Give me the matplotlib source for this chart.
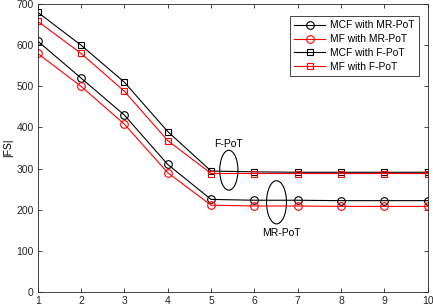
import numpy as np
import matplotlib
matplotlib.use('Agg')
import matplotlib.pyplot as plt
from matplotlib.patches import Ellipse

x = np.arange(1, 11)
mcf_mr = [610, 520, 430, 310, 225, 223, 223, 222, 222, 222]
mf_mr = [580, 500, 408, 290, 211, 209, 209, 208, 208, 208]
mcf_f = [680, 600, 510, 390, 294, 292, 291, 291, 291, 291]
mf_f = [658, 580, 488, 368, 288, 288, 288, 288, 288, 288]

plt.rcParams['font.family'] = 'Liberation Sans'
plt.rcParams['font.size'] = 7.5

fig = plt.figure(figsize=(4.33, 3.08), dpi=100)
ax = fig.add_axes([0.087, 0.052, 0.901, 0.935])

ax.plot(x, mcf_mr, 'k-', marker='o', mfc='none', ms=5.5, mew=0.8, lw=0.8, label='MCF with MR-PoT')
ax.plot(x, mf_mr, 'r-', marker='o', mfc='none', ms=5.5, mew=0.8, lw=0.8, label='MF with MR-PoT')
ax.plot(x, mcf_f, 'k-', marker='s', mfc='none', ms=4.5, mew=0.8, lw=0.8, label='MCF with F-PoT')
ax.plot(x, mf_f, 'r-', marker='s', mfc='none', ms=4.5, mew=0.8, lw=0.8, label='MF with F-PoT')

# annotation ellipses
ax.add_patch(Ellipse((5.41, 296), 0.42, 97, fill=False, ec='k', lw=0.8))
ax.text(5.41, 360, 'F-PoT', ha='center', va='center')
ax.add_patch(Ellipse((6.51, 218), 0.46, 105, fill=False, ec='k', lw=0.8))
ax.text(6.63, 143, 'MR-PoT', ha='center', va='center')

ax.set_xlim(1, 10)
ax.set_ylim(0, 700)
ax.set_xticks(range(1, 11))
ax.set_yticks(range(0, 701, 100))
ax.set_ylabel('|FS|', labelpad=2)
ax.tick_params(direction='in', top=True, right=True, length=3, width=0.6, colors='#262626', pad=3)
for s in ax.spines.values():
    s.set_color('#262626')
    s.set_linewidth(0.6)

leg = ax.legend(loc='upper right', fancybox=False, edgecolor='#262626', framealpha=1,
                fontsize=7.4, bbox_to_anchor=(0.977, 0.958), borderaxespad=0,
                handlelength=3.0, handletextpad=0.5, labelspacing=0.38, borderpad=0.4)
leg.get_frame().set_linewidth(0.6)

fig.savefig('out.png', dpi=100)
